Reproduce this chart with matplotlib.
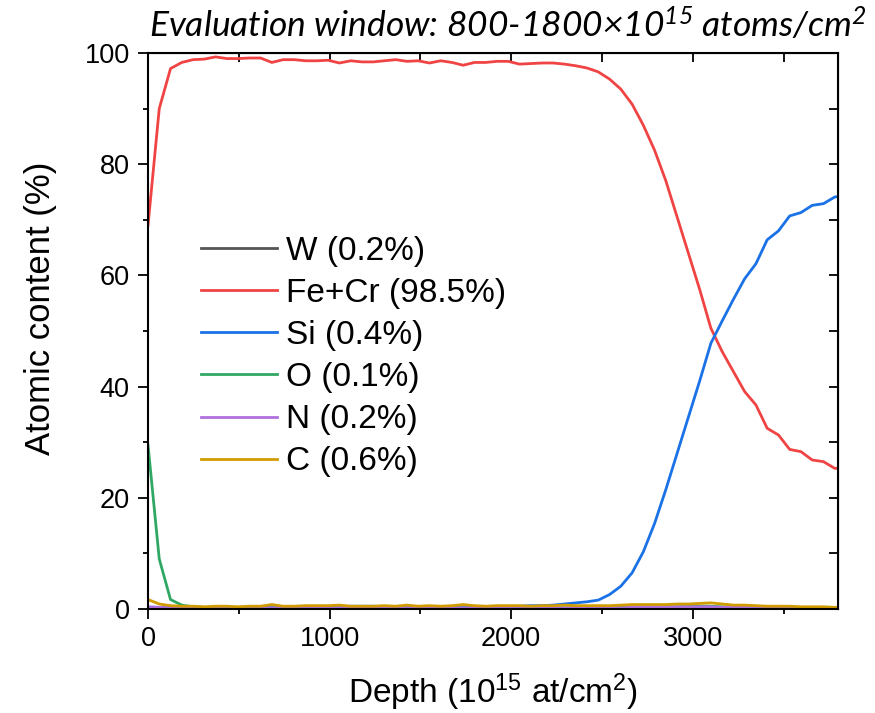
import matplotlib
matplotlib.use('Agg')
import matplotlib.pyplot as plt
from matplotlib.ticker import MultipleLocator

plt.rcParams['font.family'] = ['Liberation Sans', 'DejaVu Sans']
plt.rcParams['mathtext.default'] = 'regular'

# depth in 1e15 at/cm2
depth = [0, 62, 124, 186, 248, 310, 372, 434, 496, 558, 620, 682, 744, 806, 868, 930,
         992, 1054, 1116, 1178, 1240, 1302, 1364, 1426, 1488, 1550, 1612, 1674, 1736,
         1798, 1860, 1922, 1984, 2046, 2108, 2170, 2232, 2294, 2356, 2418, 2480, 2542,
         2604, 2666, 2728, 2790, 2852, 2914, 2976, 3038, 3100, 3162, 3224, 3286, 3348,
         3410, 3472, 3534, 3596, 3658, 3720, 3782, 3844]

w = [0.1, 0.1, 0.1, 0.1, 0.1, 0.1, 0.1, 0.1, 0.1, 0.1, 0.1, 0.1, 0.1, 0.1, 0.1, 0.1,
     0.1, 0.1, 0.1, 0.1, 0.1, 0.1, 0.1, 0.1, 0.1, 0.1, 0.1, 0.1, 0.1, 0.1, 0.1, 0.1,
     0.1, 0.1, 0.1, 0.1, 0.1, 0.1, 0.1, 0.1, 0.1, 0.1, 0.1, 0.1, 0.1, 0.1, 0.1, 0.1,
     0.1, 0.1, 0.1, 0.1, 0.1, 0.1, 0.1, 0.1, 0.1, 0.1, 0.1, 0.1, 0.1, 0.1, 0.1]
fecr = [69.0, 90.0, 97.2, 98.3, 98.8, 98.9, 99.3, 99.0, 99.0, 99.1, 99.1, 98.3, 98.8,
        98.8, 98.6, 98.6, 98.7, 98.2, 98.6, 98.4, 98.4, 98.6, 98.8, 98.5, 98.6, 98.2,
        98.6, 98.3, 97.8, 98.3, 98.3, 98.5, 98.5, 98.0, 98.1, 98.2, 98.2, 98.0, 97.7,
        97.3, 96.6, 95.3, 93.5, 90.8, 87.0, 82.5, 77.0, 70.5, 64.0, 57.5, 50.5, 46.3,
        42.7, 39.1, 36.7, 32.5, 31.3, 28.7, 28.3, 26.8, 26.5, 25.3, 25.3]
si = [0.3, 0.3, 0.3, 0.3, 0.3, 0.3, 0.3, 0.3, 0.3, 0.3, 0.3, 0.3, 0.3, 0.3, 0.3, 0.4,
      0.4, 0.4, 0.5, 0.5, 0.5, 0.4, 0.4, 0.4, 0.3, 0.3, 0.3, 0.3, 0.3, 0.3, 0.3, 0.4,
      0.4, 0.5, 0.6, 0.6, 0.7, 0.9, 1.1, 1.3, 1.6, 2.6, 4.1, 6.5, 10.3, 15.4, 21.5,
      28.0, 34.5, 41.0, 47.8, 51.8, 55.7, 59.4, 62.1, 66.4, 68.0, 70.7, 71.3, 72.6,
      72.9, 74.1, 74.4]
o = [29.5, 9.0, 1.7, 0.7, 0.4, 0.3, 0.2, 0.2, 0.2, 0.2, 0.2, 0.2, 0.2, 0.2, 0.2, 0.2,
     0.2, 0.2, 0.2, 0.2, 0.2, 0.2, 0.2, 0.2, 0.2, 0.2, 0.2, 0.2, 0.2, 0.2, 0.2, 0.2,
     0.2, 0.2, 0.2, 0.2, 0.2, 0.2, 0.2, 0.2, 0.2, 0.2, 0.3, 0.3, 0.3, 0.3, 0.4, 0.4,
     0.5, 0.5, 0.5, 0.4, 0.3, 0.3, 0.3, 0.2, 0.2, 0.2, 0.2, 0.2, 0.2, 0.2, 0.2]
n = [0.4, 0.3, 0.2, 0.2, 0.2, 0.2, 0.2, 0.2, 0.2, 0.2, 0.2, 0.2, 0.2, 0.2, 0.2, 0.2,
     0.2, 0.2, 0.2, 0.2, 0.2, 0.2, 0.2, 0.2, 0.2, 0.2, 0.2, 0.2, 0.2, 0.2, 0.2, 0.2,
     0.2, 0.2, 0.2, 0.2, 0.2, 0.2, 0.2, 0.2, 0.2, 0.2, 0.2, 0.3, 0.3, 0.3, 0.4, 0.4,
     0.4, 0.4, 0.4, 0.3, 0.3, 0.3, 0.2, 0.2, 0.2, 0.2, 0.2, 0.2, 0.2, 0.2, 0.2]
c = [1.7, 0.9, 0.6, 0.5, 0.5, 0.4, 0.5, 0.5, 0.4, 0.5, 0.5, 0.8, 0.5, 0.5, 0.6, 0.6,
     0.6, 0.7, 0.5, 0.5, 0.5, 0.6, 0.5, 0.7, 0.5, 0.6, 0.5, 0.6, 0.8, 0.6, 0.5, 0.6,
     0.6, 0.6, 0.5, 0.6, 0.6, 0.7, 0.6, 0.6, 0.6, 0.6, 0.7, 0.8, 0.8, 0.8, 0.8, 0.9,
     0.9, 1.0, 1.1, 0.9, 0.7, 0.7, 0.6, 0.5, 0.5, 0.5, 0.4, 0.4, 0.4, 0.3, 0.3]

labels = ['W (0.2%)', 'Fe+Cr (98.5%)', 'Si (0.4%)', 'O (0.1%)', 'N (0.2%)', 'C (0.6%)']
colors = ['#555555', '#f04444', '#1a72e6', '#30a864', '#b070e0', '#d09c00']
title = 'Evaluation window: 800-1800×10$^{15}$ atoms/cm$^{2}$'

fig = plt.figure(figsize=(8.75, 7.13), dpi=100)
ax = fig.add_axes([148/875, 104/713, 690/875, 556/713])

for ys, lab, col in zip([w, fecr, si, o, n, c], labels, colors):
    ax.plot(depth, ys, color=col, lw=2.0, label=lab, solid_joinstyle='round')

ax.set_xlim(0, 3800)
ax.set_ylim(0, 100)
ax.xaxis.set_major_locator(MultipleLocator(1000))
ax.xaxis.set_minor_locator(MultipleLocator(500))
ax.yaxis.set_major_locator(MultipleLocator(20))
ax.yaxis.set_minor_locator(MultipleLocator(10))
ax.tick_params(which='major', direction='out', length=7.2, width=1.3, labelsize=19.5)
ax.tick_params(which='minor', direction='out', length=3.6, width=1.3)
ax.tick_params(axis='x', pad=5)
ax.tick_params(axis='y', pad=6)
for s in ax.spines.values():
    s.set_linewidth(1.5)

# mirrored ticks pointing inward on top and right
top = ax.secondary_xaxis('top')
top.set_xticks([0, 500, 1000, 1500, 2000, 2500, 3000, 3500])
top.tick_params(direction='in', length=6.5, width=1.3, labeltop=False)
right = ax.secondary_yaxis('right')
right.set_yticks([0, 10, 20, 30, 40, 50, 60, 70, 80, 90, 100])
right.tick_params(direction='in', length=6.5, width=1.3, labelright=False)

ax.set_xlabel('Depth (10$^{15}$ at/cm$^{2}$)', fontsize=24, va='baseline')
ax.xaxis.set_label_coords(0.5, -0.169)
ax.set_ylabel('Atomic content (%)', fontsize=25)
ax.yaxis.set_label_coords(-0.132, 0.54)

fig.text(508/875, 675/713, title, fontsize=25.5, family='Lato', style='italic',
         ha='center', va='baseline')

ax.legend(loc='center left', bbox_to_anchor=(0.0764, 0.454), frameon=False,
          fontsize=24, handlelength=2.28, handletextpad=0.27, labelspacing=0.334,
          borderpad=0, borderaxespad=0)

fig.savefig('out.png', dpi=100)
